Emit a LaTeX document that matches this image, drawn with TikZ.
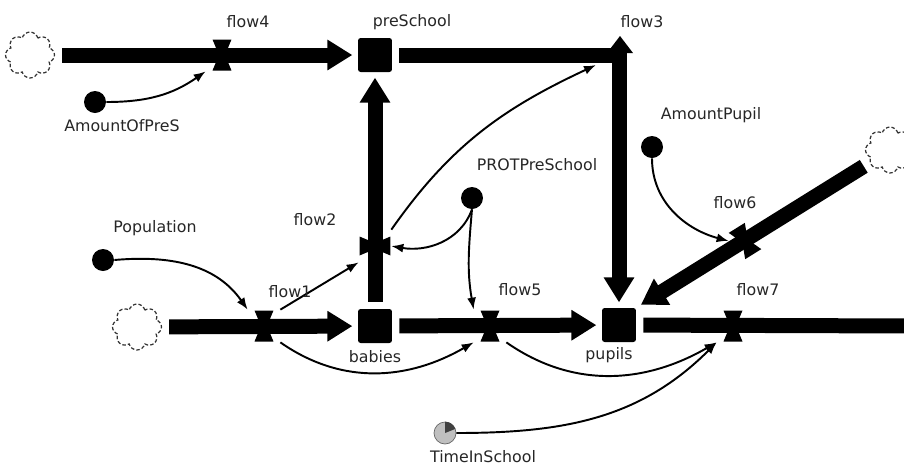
\documentclass[tikz,border=0pt]{standalone}
\usepackage{fontspec}
\setmainfont{DejaVu Sans}
\usetikzlibrary{arrows.meta,shapes.symbols}

\tikzset{valve/.pic={\fill (-0.19cm,0.31cm) -- (0.19cm,0.31cm) -- (0.06cm,0cm) -- (0.19cm,-0.31cm) -- (-0.19cm,-0.31cm) -- (-0.06cm,0cm) -- cycle;}}

\begin{document}
\begin{tikzpicture}[x=0.02cm, y=-0.02cm]
  \tikzstyle{stock} = [fill=black, rounded corners=1.5pt, minimum size=0.68cm, inner sep=0]
  \tikzstyle{aux} = [circle, fill=black, minimum size=0.44cm, inner sep=0]
  \tikzstyle{source} = [cloud, cloud puffs=8, cloud ignores aspect, draw=black!80, line width=0.7pt, dash pattern=on 2pt off 1.2pt, minimum width=0.98cm, minimum height=0.92cm, inner sep=0]
  \tikzstyle{rate} = [inner sep=0, minimum size=0.64cm]
  \tikzstyle{legend} = [font=\fontsize{9}{10}\selectfont, text=black!85]
  \tikzstyle{pipe} = [line width=0.3cm, -{Triangle[length=0.5cm,width=0.58cm]}, shorten <=4pt, shorten >=3pt]
  \tikzstyle{link} = [line width=1.1pt, -{Latex[length=2.4mm,width=1.8mm]}]

  \useasboundingbox (0,0) rectangle (904,468);

  \node[source] (cloudTL) at (30,55) {};
  \node[source] (cloudBL) at (137,327) {};
  \node[source] (cloudR) at (890,150) {};
  \node[stock] (preSchool) at (375,55) {};
  \node[stock] (babies) at (375,326) {};
  \node[stock] (pupils) at (619,325) {};
  \coordinate (flow3) at (619,55);
  \coordinate (sinkR) at (915,326);

  \node[rate] (flow4) at (222,55) {};
  \node[rate] (flow1) at (264,326) {};
  \node[rate] (flow2) at (375,246) {};
  \node[rate] (flow5) at (490,326) {};
  \node[rate] (flow7) at (733,326) {};
  \node[rate] (flow6) at (745,241) {};

  \node[aux] (amountOfPreS) at (95,102) {};
  \node[aux] (population) at (103,260) {};
  \node[aux] (protPreSchool) at (472,198) {};
  \node[aux] (amountPupil) at (652,147) {};
  \node[aux, fill=gray!50, draw=black!60] (timeInSchool) at (445,433) {};
  \fill[black!75] (timeInSchool.center) -- (timeInSchool.north) arc[start angle=90, end angle=20, radius=0.22cm] -- cycle;

  \draw[pipe] (cloudTL) -- (preSchool);
  \draw[pipe] (cloudBL) -- (babies);
  \draw[pipe] (babies) -- (preSchool);
  \draw[pipe] (babies) -- (pupils);
  \draw[pipe, line join=miter] (preSchool) -- (flow3) -- (pupils);
  \draw[pipe] (cloudR) -- (pupils.north east);
  \draw[pipe, -] (pupils) -- (sinkR);

  \pic at (flow4) {valve};
  \pic at (flow1) {valve};
  \pic[rotate=90] at (flow2) {valve};
  \pic at (flow5) {valve};
  \pic at (flow7) {valve};
  \pic[rotate=32] at (flow6) {valve};
  \fill (flow3) ++(-12,-2) -- ++(13,-17) -- ++(13,17) -- cycle;

  \draw[link] (amountOfPreS.east) to[out=0, in=215] (flow4.south west);
  \draw[link] (population.east) to[out=5, in=125] (flow1.north west);
  \draw[link] (flow1.north east) -- (flow2.south west);
  \draw[link] (flow2.north east) to[out=55, in=205] ([xshift=-0.46cm, yshift=-0.2cm]flow3);
  \draw[link] (protPreSchool.south) to[out=250, in=-10] (flow2.east);
  \draw[link] (protPreSchool.south) to[out=265, in=100] (flow5.north west);
  \draw[link] (amountPupil.south) to[out=270, in=165] (flow6.west);
  \draw[link] (flow1.south east) to[out=-35, in=210] (flow5.south west);
  \draw[link] (flow5.south east) to[out=-35, in=210] (flow7.south west);
  \draw[link] (timeInSchool.east) to[out=0, in=225] (flow7.south west);

  \node[legend] (lblFlow4) at (248,22) {flow4};
  \node[legend] (lblPreSchool) at (412,22) {preSchool};
  \node[legend] (lblFlow3) at (642,22) {flow3};
  \node[legend] (lblAmountOfPreS) at (122,126) {AmountOfPreS};
  \node[legend] (lblPopulation) at (155,228) {Population};
  \node[legend] (lblFlow2) at (315,220) {flow2};
  \node[legend] (lblProtPreSchool) at (537,165) {PROTPreSchool};
  \node[legend] (lblAmountPupil) at (711,115) {AmountPupil};
  \node[legend] (lblFlow6) at (735,203) {flow6};
  \node[legend] (lblFlow1) at (290,292) {flow1};
  \node[legend] (lblFlow5) at (520,290) {flow5};
  \node[legend] (lblFlow7) at (758,290) {flow7};
  \node[legend] (lblBabies) at (375,357) {babies};
  \node[legend] (lblPupils) at (609,355) {pupils};
  \node[legend] (lblTimeInSchool) at (483,457) {TimeInSchool};
\end{tikzpicture}
\end{document}
